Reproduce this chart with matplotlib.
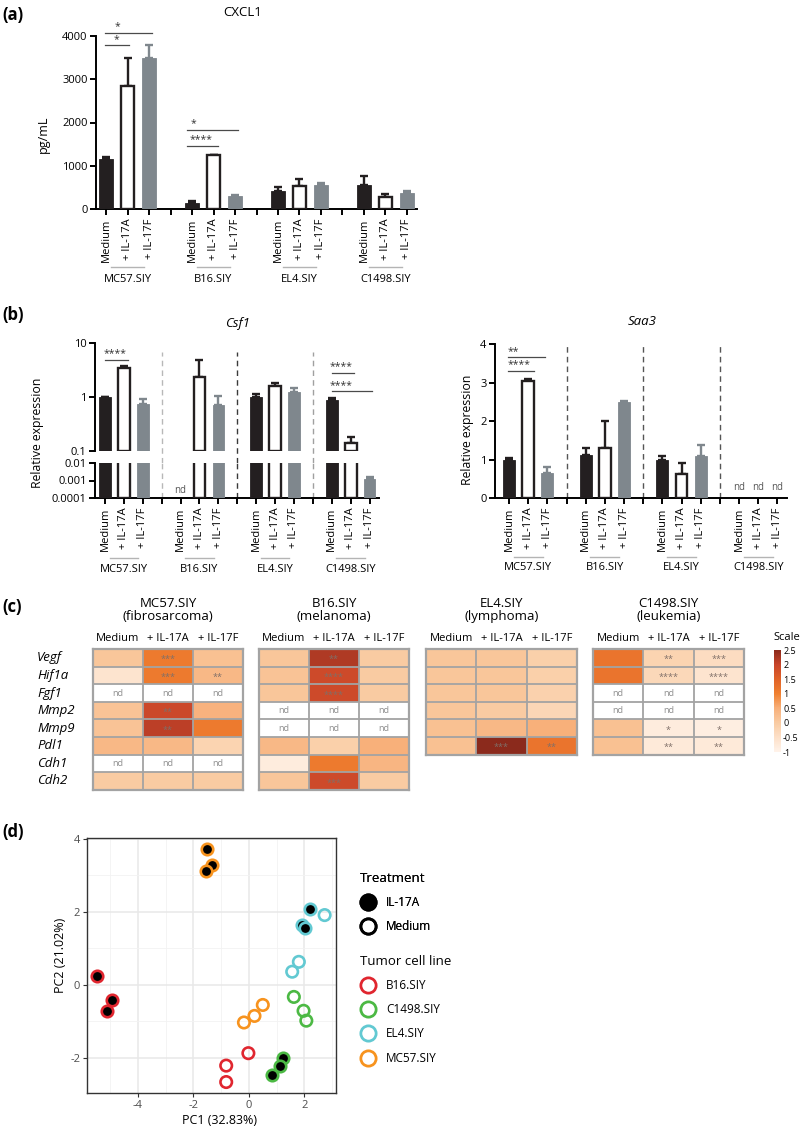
import numpy as np
import matplotlib
matplotlib.use('Agg')
import matplotlib.pyplot as plt
import matplotlib.transforms as mtransforms
from matplotlib.colors import LinearSegmentedColormap, Normalize
from matplotlib.cm import ScalarMappable
from matplotlib.lines import Line2D

plt.rcParams['font.family'] = ['Open Sans', 'DejaVu Sans']
plt.rcParams['axes.unicode_minus'] = False

W, H = 800, 1129
nan = np.nan

cell_lines = ['MC57.SIY', 'B16.SIY', 'EL4.SIY', 'C1498.SIY']
treatments = ['Medium', '+ IL-17A', '+ IL-17F']

# (a) CXCL1, pg/mL, mean and SD, 3 bars per cell line
cxcl1_mean = [1150, 2850, 3480, 140, 1240, 300, 410, 530, 560, 560, 270, 370]
cxcl1_sd = [60, 650, 320, 45, 20, 30, 100, 170, 40, 200, 70, 50]

# (b) relative expression
csf1_mean = [1.0, 3.5, 0.75, nan, 2.3, 0.72, 1.0, 1.6, 1.25, 0.88, 0.14, 0.0012]
csf1_sd = [0.02, 0.3, 0.17, nan, 2.6, 0.33, 0.15, 0.2, 0.2, 0.07, 0.04, 0.0004]
saa3_mean = [1.0, 3.05, 0.65, 1.12, 1.3, 2.5, 1.0, 0.63, 1.1, nan, nan, nan]
saa3_sd = [0.05, 0.03, 0.15, 0.18, 0.7, 0.01, 0.1, 0.27, 0.28, nan, nan, nan]

# (c) heatmaps (scaled expression), nan = not detected
genes = ['Vegf', 'Hif1a', 'Fgf1', 'Mmp2', 'Mmp9', 'Pdl1', 'Cdh1', 'Cdh2']
heat_titles = ['MC57.SIY\n(fibrosarcoma)', 'B16.SIY\n(melanoma)',
               'EL4.SIY\n(lymphoma)', 'C1498.SIY\n(leukemia)']
heat_mc57 = [[0.1, 1.1, 0.2], [-0.6, 1.1, 0.35], [nan, nan, nan], [0.15, 1.95, 0.45],
             [0.15, 2.1, 1.1], [0.35, 0.35, -0.2], [nan, nan, nan], [0.0, 0.0, 0.0]]
heat_b16 = [[0.1, 2.2, 0.0], [0.15, 1.9, 0.0], [0.1, 1.9, 0.0], [nan, nan, nan],
            [nan, nan, nan], [0.35, -0.1, 0.5], [-0.8, 1.1, 0.4], [0.1, 1.9, 0.0]]
heat_el4 = [[0.1, 0.1, -0.1], [0.1, 0.1, -0.1], [0.1, 0.1, -0.15], [0.1, 0.0, -0.25],
            [0.2, 0.35, 0.5], [0.2, 2.5, 1.2]]
heat_c1498 = [[1.2, -0.2, -0.4], [1.2, -0.3, -0.6], [nan, nan, nan], [nan, nan, nan],
              [0.2, -0.8, -0.85], [0.2, -0.75, -0.75]]
heat_stars = [
    [(0, 1, '***'), (1, 1, '***'), (1, 2, '**'), (3, 1, '**'), (4, 1, '**')],
    [(0, 1, '**'), (1, 1, '****'), (2, 1, '****'), (7, 1, '***')],
    [(5, 1, '***'), (5, 2, '**')],
    [(0, 1, '**'), (0, 2, '***'), (1, 1, '****'), (1, 2, '****'),
     (4, 1, '*'), (4, 2, '*'), (5, 1, '**'), (5, 2, '**')],
]

# (d) PCA
pc1 = [-1.51, -1.33, -1.54, -0.18, 0.20, 0.50,
       -5.47, -4.94, -5.12, -0.02, -0.82, -0.82,
       1.23, 1.11, 0.84, 1.62, 1.97, 2.07,
       2.19, 1.93, 2.01, 2.73, 1.80, 1.56]
pc2 = [3.72, 3.29, 3.13, -1.03, -0.85, -0.55,
       0.25, -0.42, -0.72, -1.87, -2.21, -2.66,
       -2.01, -2.22, -2.47, -0.33, -0.71, -0.98,
       2.08, 1.64, 1.57, 1.91, 0.63, 0.36]
pca_line = ['MC57.SIY'] * 6 + ['B16.SIY'] * 6 + ['C1498.SIY'] * 6 + ['EL4.SIY'] * 6
pca_treat = (['IL-17A'] * 3 + ['Medium'] * 3) * 4
line_colors = {'B16.SIY': '#e0262f', 'C1498.SIY': '#4cb944',
               'EL4.SIY': '#62c9d2', 'MC57.SIY': '#f7931e'}

pos = [4 * g + i for g in range(4) for i in range(3)]
bar_fc = ['#231f20', 'white', '#7f878d']
bar_ec = ['#231f20', '#231f20', '#7f878d']
TXT = 8

fig = plt.figure(figsize=(W / 100, H / 100), dpi=100)


def pax(x0, y0, x1, y1):
    return fig.add_axes([x0 / W, 1 - y1 / H, (x1 - x0) / W, (y1 - y0) / H])


def fy(py):
    return 1 - py / H


def draw_bars(ax, means, sds, bottom=0.0, min_val=None):
    for k, (m, s) in enumerate(zip(means, sds)):
        if np.isnan(m) or (min_val is not None and m < min_val):
            continue
        i = k % 3
        ax.bar(pos[k], m - bottom, bottom=bottom, width=0.62, color=bar_fc[i],
               edgecolor=bar_ec[i], linewidth=1.7 if i == 1 else 0.6, zorder=3)
        ax.errorbar(pos[k], m, yerr=[[0], [s]], fmt='none', ecolor=bar_ec[i],
                    elinewidth=1.7, capsize=2.6, capthick=1.7, zorder=2)


def group_axis(ax, line_py, name_py, xlim):
    ax.set_xlim(*xlim)
    ax.set_xticks(pos)
    ax.set_xticklabels(treatments * 4, rotation=90, fontsize=TXT)
    ax.set_xticks([3, 7, 11], minor=True)
    ax.tick_params(axis='x', which='both', length=4, width=1.4, pad=3)
    ax.tick_params(axis='y', length=4, width=1.4, labelsize=TXT, pad=2)
    for sp in ['top', 'right']:
        ax.spines[sp].set_visible(False)
    for sp in ['left', 'bottom']:
        ax.spines[sp].set_linewidth(1.4)
    tr = mtransforms.blended_transform_factory(ax.transData, fig.transFigure)
    for g, name in enumerate(cell_lines):
        ax.plot([4 * g + 0.25, 4 * g + 1.75], [fy(line_py)] * 2, color='#b4b4b4',
                lw=1.0, transform=tr, clip_on=False)
        ax.text(4 * g + 1, fy(name_py), name, transform=tr, ha='center',
                va='center', fontsize=TXT)


def sig(ax, x1, x2, y, tx, label):
    ax.plot([x1, x2], [y, y], color='#4a4a4a', lw=0.9, clip_on=False, zorder=5)
    ax.annotate(label, (tx, y), xytext=(0, 0.3), textcoords='offset points',
                ha='center', va='bottom', fontsize=7.5, color='#333333',
                annotation_clip=False)


# ---------------- (a) CXCL1 ----------------
fig.text(2 / W, fy(15), '(a)', fontsize=12, fontweight='bold', va='center')
ax_a = pax(96, 36, 417, 209)
draw_bars(ax_a, cxcl1_mean, cxcl1_sd)
ax_a.set_ylim(0, 4000)
ax_a.set_yticks([0, 1000, 2000, 3000, 4000])
group_axis(ax_a, 267, 279, (-0.47, 14.47))
fig.text(243 / W, fy(12), 'CXCL1', fontsize=9.5, ha='center', va='center')
fig.text(43 / W, fy(134), 'pg/mL', fontsize=9, rotation=90, ha='center', va='center')
sig(ax_a, -0.05, 2.15, 4070, 0.55, '*')
sig(ax_a, -0.05, 1.05, 3790, 0.5, '*')
sig(ax_a, 3.77, 6.15, 1827, 4.05, '*')
sig(ax_a, 3.75, 5.2, 1457, 4.4, '****')

# ---------------- (b) Csf1 (broken log axis) ----------------
fig.text(2 / W, fy(315), '(b)', fontsize=12, fontweight='bold', va='center')
ax_t = pax(95, 343, 379, 451)
ax_b = pax(95, 463, 379, 498)
for ax in (ax_t, ax_b):
    ax.set_yscale('log')
    ax.set_xlim(-0.53, 14.5)
    ax.yaxis.set_minor_locator(matplotlib.ticker.NullLocator())
ax_t.set_ylim(0.1, 10)
ax_t.set_yticks([0.1, 1, 10])
ax_t.set_yticklabels(['0.1', '1', '10'])
draw_bars(ax_t, csf1_mean, csf1_sd, bottom=0.1, min_val=0.1)
ax_t.tick_params(axis='y', length=4, width=1.4, labelsize=TXT, pad=2)
ax_t.tick_params(axis='x', bottom=False, labelbottom=False)
for sp in ['top', 'right', 'bottom']:
    ax_t.spines[sp].set_visible(False)
ax_t.spines['left'].set_linewidth(1.4)

ax_b.set_ylim(1e-4, 1e-2)
ax_b.set_yticks([1e-4, 1e-3, 1e-2])
ax_b.set_yticklabels(['0.0001', '0.001', '0.01'])
for k, m in enumerate(csf1_mean):
    if np.isnan(m):
        ax_b.text(pos[k], 2.6e-4, 'nd', ha='center', va='center', fontsize=7, color='#555555')
        continue
    i = k % 3
    top = 1.0 if m >= 1e-2 else m
    ax_b.bar(pos[k], top - 1e-4, bottom=1e-4, width=0.62, color=bar_fc[i],
             edgecolor=bar_ec[i], linewidth=1.7 if i == 1 else 0.6, zorder=3)
    if m < 1e-2:
        ax_b.errorbar(pos[k], m, yerr=[[0], [csf1_sd[k]]], fmt='none', ecolor=bar_ec[i],
                      elinewidth=1.7, capsize=2.6, capthick=1.7, zorder=2)
group_axis(ax_b, 558, 570, (-0.53, 14.5))
ax_b.set_ylim(1e-4, 1e-2)
sep_colors = ['#b8b8b8', '#3a3a3a', '#a0a0a0']
for xs, c in zip([3, 7, 11], sep_colors):
    ax_t.axvline(xs, ymin=-12 / 108, ymax=0.92, color=c, lw=1.0, ls=(0, (4, 3)), clip_on=False)
    ax_b.axvline(xs, color=c, lw=1.0, ls=(0, (4, 3)))
fig.text(237 / W, fy(323), 'Csf1', fontsize=9.5, style='italic', ha='center', va='center')
fig.text(37 / W, fy(433), 'Relative expression', fontsize=8.8, rotation=90,
         ha='center', va='center')
sig(ax_t, 0.0, 1.2, 4.84, 0.55, '****')
sig(ax_t, 12.0, 13.2, 2.78, 12.5, '****')
sig(ax_t, 12.0, 14.15, 1.29, 12.5, '****')

# ---------------- (b) Saa3 ----------------
ax_s = pax(495, 344, 787, 498)
draw_bars(ax_s, saa3_mean, saa3_sd)
ax_s.set_ylim(0, 4)
ax_s.set_yticks([0, 1, 2, 3, 4])
group_axis(ax_s, 557, 568, (-0.73, 14.5))
for k, m in enumerate(saa3_mean):
    if np.isnan(m):
        ax_s.text(pos[k], 0.27, 'nd', ha='center', va='center', fontsize=7, color='#555555')
for xs in [3, 7, 11]:
    ax_s.axvline(xs, color='#555555', lw=1.0, ls=(0, (4, 3)))
fig.text(642 / W, fy(322), 'Saa3', fontsize=9.5, style='italic', ha='center', va='center')
fig.text(468 / W, fy(430), 'Relative expression', fontsize=8.8, rotation=90,
         ha='center', va='center')
sig(ax_s, -0.05, 1.9, 3.66, 0.2, '**')
sig(ax_s, -0.05, 1.3, 3.30, 0.5, '****')

# ---------------- (c) heatmaps ----------------
fig.text(2 / W, fy(607), '(c)', fontsize=12, fontweight='bold', va='center')
heat_cmap = LinearSegmentedColormap.from_list('scale', [
    (0.0, '#fff3ea'), (0.5 / 3.5, '#fde0c8'), (1 / 3.5, '#f9cba2'),
    (1.5 / 3.5, '#f8b07a'), (2 / 3.5, '#f08030'), (2.5 / 3.5, '#e06228'),
    (3 / 3.5, '#c9452a'), (1.0, '#8b2a1c')])
heat_norm = Normalize(vmin=-1, vmax=2.5)
heat_boxes = [(93, 243), (259, 409), (426, 577), (593, 744)]
heat_data = [heat_mc57, heat_b16, heat_el4, heat_c1498]
for h, (data, (x0, x1)) in enumerate(zip(heat_data, heat_boxes)):
    arr = np.array(data, dtype=float)
    nrow = arr.shape[0]
    ax = pax(x0, 649, x1, 649 + 17.6 * nrow)
    ax.pcolormesh(np.ma.masked_invalid(arr), cmap=heat_cmap, norm=heat_norm)
    ax.set_xlim(0, 3)
    ax.set_ylim(nrow, 0)
    for r in range(1, nrow):
        ax.axhline(r, color='#a3a3a3', lw=1.3)
    for c in (1, 2):
        ax.axvline(c, color='#a3a3a3', lw=1.3)
    for sp in ax.spines.values():
        sp.set_color('#a3a3a3')
        sp.set_linewidth(1.6)
    ax.set_yticks([])
    ax.xaxis.tick_top()
    ax.set_xticks([0.5, 1.5, 2.5])
    ax.set_xticklabels(treatments, fontsize=TXT)
    ax.tick_params(axis='x', length=0, pad=3.5)
    for r in range(nrow):
        for c in range(3):
            if np.isnan(arr[r, c]):
                ax.text(c + 0.5, r + 0.5, 'nd', ha='center', va='center',
                        fontsize=6.5, color='#8c8c8c')
    for r, c, s in heat_stars[h]:
        ax.text(c + 0.5, r + 0.62, s, ha='center', va='center', fontsize=6.5, color='#7f6f68')
    ax.text(0.5, fy(610), heat_titles[h], ha='center', va='center', fontsize=9.5,
            linespacing=0.95,
            transform=mtransforms.blended_transform_factory(ax.transAxes, fig.transFigure))
    if h == 0:
        tr = mtransforms.blended_transform_factory(fig.transFigure, ax.transData)
        for r, gname in enumerate(genes):
            ax.text(37 / W, r + 0.5, gname, transform=tr, ha='left', va='center',
                    fontsize=9.5, style='italic')

cax = pax(774, 650, 781, 752)
cbar = fig.colorbar(ScalarMappable(norm=heat_norm, cmap=heat_cmap), cax=cax,
                    ticks=[-1, -0.5, 0, 0.5, 1, 1.5, 2, 2.5])
cbar.ax.set_yticklabels(['-1', '-0.5', '0', '0.5', '1', '1.5', '2', '2.5'])
cbar.outline.set_visible(False)
cax.tick_params(length=0, labelsize=6.5, pad=1.5)
fig.text(787 / W, fy(637), 'Scale', fontsize=TXT, ha='center', va='center')

# ---------------- (d) PCA ----------------
fig.text(2 / W, fy(832), '(d)', fontsize=12, fontweight='bold', va='center')
ax_d = pax(87, 838, 336, 1093)
ax_d.set_xlim(-5.84, 3.14)
ax_d.set_ylim(-2.96, 4.02)
ax_d.set_xticks([-4, -2, 0, 2])
ax_d.set_yticks([-2, 0, 2, 4])
ax_d.set_xticks([-5, -3, -1, 1, 3], minor=True)
ax_d.set_yticks([-1, 1, 3], minor=True)
ax_d.grid(which='major', color='#e8e8e8', lw=1.1)
ax_d.grid(which='minor', color='#f2f2f2', lw=0.6)
ax_d.set_axisbelow(True)
ax_d.tick_params(which='major', length=3, width=0.8, color='#333333',
                 labelsize=TXT, labelcolor='#4d4d4d', pad=2)
ax_d.tick_params(which='minor', length=0)
for sp in ax_d.spines.values():
    sp.set_color('#333333')
    sp.set_linewidth(1.0)
for x, y, ln, tr_ in zip(pc1, pc2, pca_line, pca_treat):
    ax_d.scatter(x, y, s=68, facecolor='black' if tr_ == 'IL-17A' else 'none',
                 edgecolor=line_colors[ln], linewidth=1.9, zorder=3)
fig.text(219 / W, fy(1120), 'PC1 (32.83%)', fontsize=9, ha='center', va='center')
fig.text(60 / W, fy(955), 'PC2 (21.02%)', fontsize=9, rotation=90, ha='center', va='center')

treat_handles = [
    Line2D([], [], ls='none', marker='o', ms=11, mfc='black', mec='black', mew=2, label='IL-17A'),
    Line2D([], [], ls='none', marker='o', ms=11, mfc='none', mec='black', mew=2, label='Medium'),
]
line_handles = [Line2D([], [], ls='none', marker='o', ms=11, mfc='none', mec=line_colors[n],
                       mew=2, label=n) for n in ['B16.SIY', 'C1498.SIY', 'EL4.SIY', 'MC57.SIY']]
leg_kw = dict(loc='upper left', frameon=False, fontsize=8.5, title_fontsize=9.5,
              alignment='left', labelspacing=0.95, handletextpad=0.9, borderpad=0,
              handlelength=1.3)
leg1 = fig.legend(handles=treat_handles, title='Treatment',
                  bbox_to_anchor=(354 / W, fy(866)), **leg_kw)
leg2 = fig.legend(handles=line_handles, title='Tumor cell line',
                  bbox_to_anchor=(354 / W, fy(949)), **leg_kw)
leg1._legend_box.sep = 8
leg2._legend_box.sep = 8
fig.add_artist(leg1)

fig.savefig('out.png', dpi=100)
